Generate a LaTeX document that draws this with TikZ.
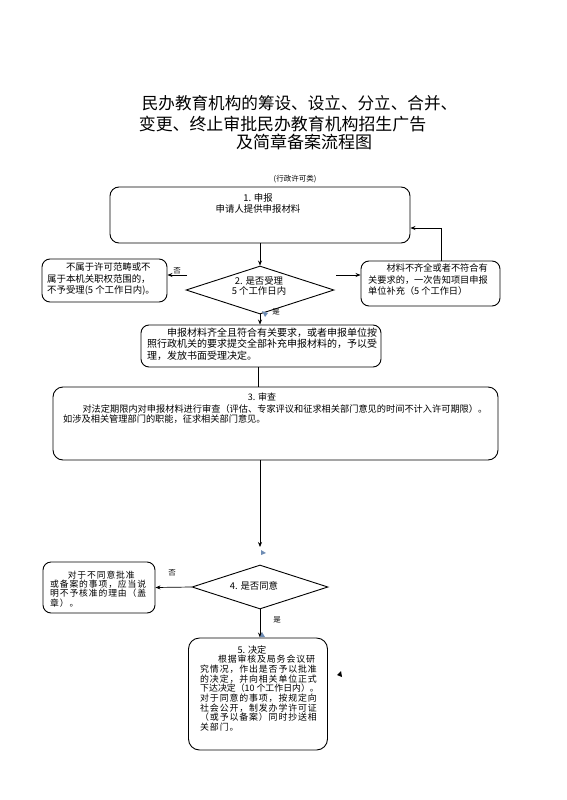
\documentclass[tikz,border=0pt]{standalone}
\usepackage{fontspec}
\newfontfamily\cjk{Noto Sans CJK SC}
\newfontfamily\cjkw[LetterSpace=10]{Noto Sans CJK SC}
\usetikzlibrary{shapes.geometric,arrows.meta}
\begin{document}
\begin{tikzpicture}[x=1pt,y=-1pt,
  box/.style={draw,line width=0.9pt,rounded corners=8pt,inner sep=0pt},
  dia/.style={draw,line width=0.9pt,diamond,inner sep=0pt},
  txt/.style={inner sep=0pt,anchor=north west,align=left},
  ctr/.style={inner sep=0pt,anchor=north,align=center},
  lab/.style={inner sep=0pt,font=\cjk\fontsize{7.5}{8}\selectfont},
  arr/.style={-{Stealth[length=5pt,width=4pt]},line width=0.7pt},
  ln/.style={line width=0.7pt},
  stray/.style={fill={rgb,255:red,110;green,140;blue,180}}]
\useasboundingbox (0,0) rectangle (566,800);
% title
\node[inner sep=0pt,font=\cjk\fontsize{16.6}{20}\selectfont] (ti1) at (299.5,103) {民办教育机构的筹设、设立、分立、合并、};
\node[inner sep=0pt,font=\cjk\fontsize{16.9}{20}\selectfont] (ti2) at (282.5,124) {变更、终止审批民办教育机构招生广告};
\node[inner sep=0pt,font=\cjk\fontsize{17}{20}\selectfont] (ti3) at (304,142) {及简章备案流程图};
\node[inner sep=0pt,font=\cjk\fontsize{7.5}{8}\selectfont] (sub) at (295,179) {(行政许可类)};
% boxes
\node[box,rounded corners=9pt,minimum width=300pt,minimum height=56pt] (b1) at (260,215) {};
\node[box,minimum width=125pt,minimum height=43pt] (bl1) at (104.5,280.5) {};
\node[box,minimum width=139pt,minimum height=45pt] (br1) at (430.5,283.5) {};
\node[dia,minimum width=148pt,minimum height=48pt] (d2) at (260,290) {};
\node[box,minimum width=240pt,minimum height=42pt] (b2) at (261,346) {};
\node[box,rounded corners=10pt,minimum width=445pt,minimum height=73pt] (b3) at (275.5,423.5) {};
\node[dia,minimum width=136pt,minimum height=44pt] (d4) at (260,587) {};
\node[box,minimum width=112pt,minimum height=51pt] (bl4) at (99,587.5) {};
\node[box,rounded corners=11pt,minimum width=139pt,minimum height=112pt] (b5) at (258,694) {};
% texts
\node[ctr,font=\cjk\fontsize{9.4}{11}\selectfont] (t1) at (258,193) {1. 申报\\申请人提供申报材料};
\node[txt,font=\cjk\fontsize{9.4}{11.5}\selectfont] (tl1) at (47,262.5) {\hspace*{2em}不属于许可范畴或不\\属于本机关职权范围的，\\不予受理(5 个工作日内)。};
\node[txt,font=\cjk\fontsize{9.2}{11.5}\selectfont] (tr1) at (368,263.5) {\hspace*{2em}材料不齐全或者不符合有\\关要求的，一次告知项目申报\\单位补充（5 个工作日）};
\node[ctr,font=\cjk\fontsize{9.4}{10.5}\selectfont] (t2) at (259,276) {2. 是否受理\\5 个工作日内};
\node[txt,font=\cjk\fontsize{10}{11.5}\selectfont] (tb2) at (147,327.5) {\hspace*{2em}申报材料齐全且符合有关要求，或者申报单位按\\照行政机关的要求提交全部补充申报材料的，予以受\\理，发放书面受理决定。};
\node[ctr,font=\cjk\fontsize{9}{10.5}\selectfont] (t3h) at (262,393) {3. 审查};
\node[txt,font=\cjk\fontsize{9.2}{10.5}\selectfont] (t3) at (63,404) {\hspace*{2.1em}对法定期限内对申报材料进行审查（评估、专家评议和征求相关部门意见的时间不计入许可期限）。\\如涉及相关管理部门的职能，征求相关部门意见。};
\node[ctr,font=\cjk\fontsize{9.4}{10.5}\selectfont] (t4) at (254,581) {4. 是否同意};
\node[txt,font=\cjkw\fontsize{8.8}{9.3}\selectfont] (tl4) at (50,570.5) {\hspace*{2em}对于不同意批准\\或备案的事项，应当说\\明不予核准的理由（盖\\章）。};
\node[ctr,font=\cjk\fontsize{9.2}{9.8}\selectfont] (t5h) at (252,645.5) {5. 决定};
\node[txt,font=\cjkw\fontsize{8.9}{9.7}\selectfont] (t5) at (200,655) {\hspace*{2em}根据审核及局务会议研\\究情况，作出是否予以批准\\的决定，并向相关单位正式\\{\cjk 下达决定（10 个工作日内）。}\\对于同意的事项，按规定向\\社会公开，制发办学许可证\\（或予以备案）同时抄送相\\关部门。};
% connectors
\coordinate (l2) at (187,275);
\coordinate (r2) at (336,275);
\coordinate (rt) at (441,228);
\coordinate (e3) at (260,547);
\draw[arr] (b1.south) -- (d2.north);
\draw[arr] (l2) -- (l2 -| bl1.east);
\draw[arr] (r2) -- (r2 -| br1.west);
\draw[arr] (rt |- br1.north) -- (rt) -- (rt -| b1.east);
\draw[arr] (d2.south) -- (d2.south |- b2.north);
\draw[ln] (b2.south -| 258,0) -- (b3.north -| 258,0);
\draw[arr] (b3.south -| e3) -- (e3);
\draw[arr] (d4.west) -- (bl4.east);
\draw[arr] (d4.south) -- (d4.south |- b5.north);
% labels
\node[lab] (n1) at (177,271) {否};
\node[lab] (y1) at (276,312) {是};
\node[lab] (n2) at (172,573) {否};
\node[lab] (y2) at (277,620) {是};
% stray marks
\fill[stray] (262,311) -- (268,313) -- (265,317) -- cycle;
\fill[stray] (261,550) -- (266,553) -- (261,555) -- cycle;
\fill[stray] (262,632) -- (265,637) -- (260,637) -- cycle;
\fill (341,671) -- (342,677) -- (337,675) -- cycle;
\end{tikzpicture}
\end{document}
